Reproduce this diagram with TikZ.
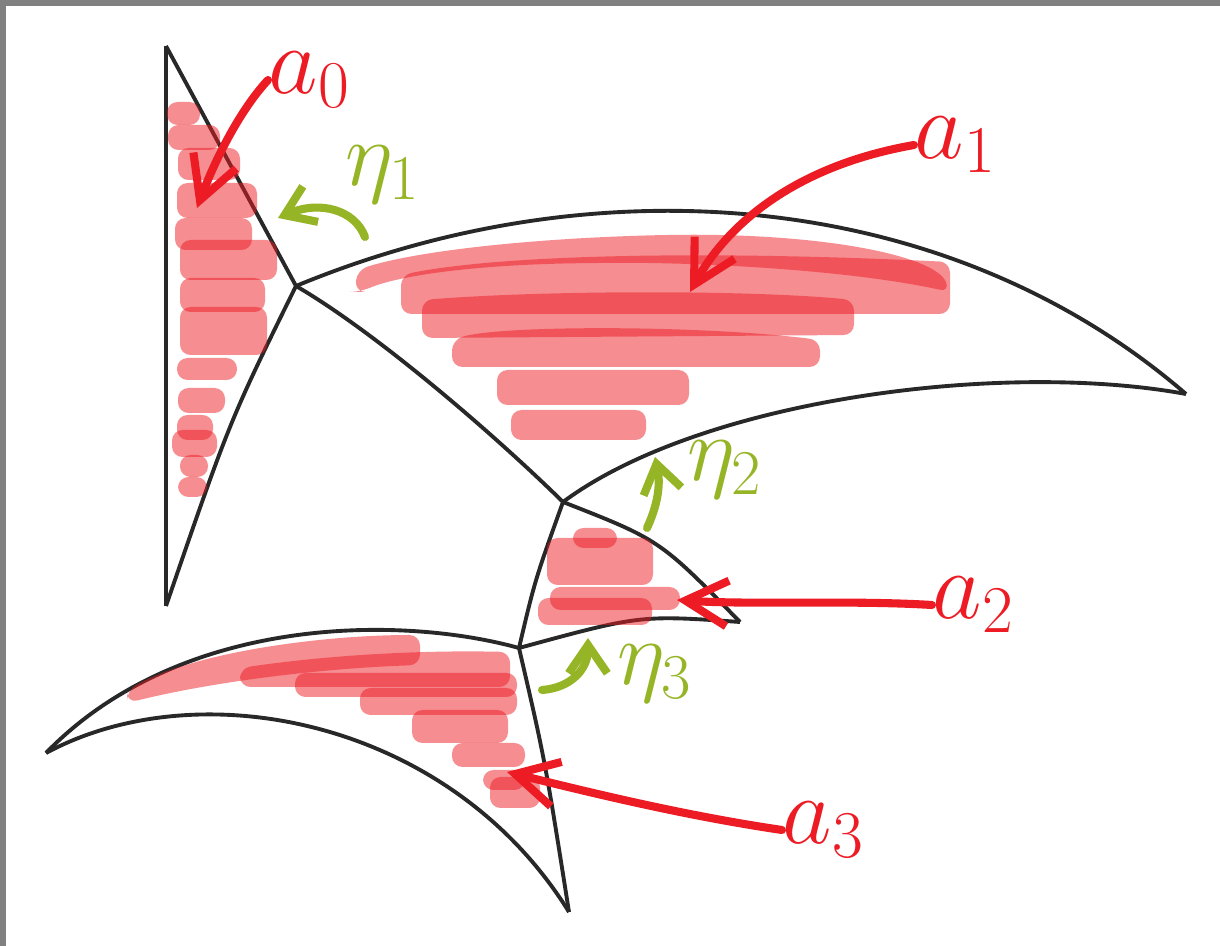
\documentclass[tikz,border=0pt]{standalone}
\usepackage{graphicx}
\usetikzlibrary{arrows.meta}
\definecolor{inkred}{RGB}{237,28,36}
\definecolor{inkgreen}{RGB}{150,181,38}
\definecolor{inkblack}{RGB}{40,40,40}
\newcommand{\inkmath}[2]{\scalebox{#1}{$#2$}}

\begin{document}
\begin{tikzpicture}[x=0.01cm,y=-0.01cm,
  seam/.style={inkblack,line width=1.1pt,line join=round},
  smear/.style={fill=inkred,fill opacity=0.5,rounded corners=3pt},
  pointer/.style={inkred,line width=2.3pt,line cap=round,line join=round,-{Straight Barb[length=12pt,width=13pt]}},
  flow/.style={inkgreen,line width=2.3pt,line cap=round,line join=round,-{Straight Barb[length=8pt,width=11pt]}},
  lbl/.style={inner sep=0pt,anchor=west,font=\fontsize{24}{24}\selectfont},
  glbl/.style={inner sep=0pt,inkgreen,font=\fontsize{24}{24}\selectfont}]

  % frame
  \fill[gray] (0,0) rectangle (1220,946);
  \fill[white] (6,6) rectangle (1220,946);

  % corners and junctions
  \coordinate (top) at (166,46);
  \coordinate (bot) at (166,606);
  \coordinate (j1) at (296,286);
  \coordinate (j2) at (563,502);
  \coordinate (j3) at (519,648);
  \coordinate (tip1) at (1186,394);
  \coordinate (tip2) at (740,622);
  \coordinate (tip3) at (46,753);
  \coordinate (tip4) at (569,912);

  % the cells
  \draw[seam] (top) -- (bot);
  \draw[seam] (top) -- (j1);
  \draw[seam] (j1) .. controls (230,420) .. (bot);
  \draw[seam] (j1) .. controls (600,160) and (950,190) .. (tip1);
  \draw[seam] (j1) .. controls (380,335) and (500,440) .. (j2);
  \draw[seam] (j2) .. controls (700,400) and (1000,360) .. (tip1);
  \draw[seam] (j2) .. controls (535,580) .. (j3);
  \draw[seam] (j2) .. controls (660,540) .. (tip2);
  \draw[seam] (j3) .. controls (640,615) .. (tip2);
  \draw[seam] (j3) .. controls (400,615) and (180,615) .. (tip3);
  \draw[seam] (tip3) .. controls (200,670) and (450,720) .. (tip4);
  \draw[seam] (j3) .. controls (545,760) .. (tip4);

  % shading of a_0
  \foreach \xa/\ya/\xb/\yb in {167/102/200/125, 168/125/220/150, 178/148/240/180,
      177/183/257/218, 175/218/252/250, 180/240/277/280, 180/278/265/312,
      180/307/267/355, 177/358/237/380, 178/388/225/413, 177/415/213/440,
      172/430/217/457, 180/455/208/477, 178/477/207/497}
    \fill[smear] (\xa,\ya) rectangle (\xb,\yb);

  % shading of a_1
  \fill[smear] (355,292) -- (357,270) .. controls (420,250) and (540,238) .. (666,235)
    .. controls (820,233) and (935,255) .. (950,292)
    .. controls (850,270) and (700,262) .. (600,263)
    .. controls (480,264) and (400,275) .. (360,292) -- cycle;
  \fill[smear] (401,275) .. controls (500,255) and (700,250) .. (950,262) -- (950,314) -- (401,314) -- cycle;
  \fill[smear] (422,300) .. controls (550,290) and (750,290) .. (854,300) -- (854,335) -- (422,338) -- cycle;
  \fill[smear] (452,340) .. controls (500,325) and (700,325) .. (820,340) -- (820,367) -- (452,367) -- cycle;
  \fill[smear] (497,370) rectangle (689,405);
  \fill[smear] (511,410) rectangle (646,440);

  % shading of a_2
  \foreach \xa/\ya/\xb/\yb in {573/528/617/548, 547/538/653/585, 550/587/680/610, 538/598/652/625}
    \fill[smear] (\xa,\ya) rectangle (\xb,\yb);

  % shading of a_3
  \fill[smear] (127,690) .. controls (200,650) and (330,635) .. (420,635) -- (420,665)
    .. controls (330,668) and (220,680) .. (127,703) -- cycle;
  \fill[smear] (240,668) .. controls (330,655) and (420,650) .. (510,652) -- (510,687) -- (240,687) -- cycle;
  \foreach \xa/\ya/\xb/\yb in {295/673/517/697, 360/688/517/715, 412/710/508/743,
      452/743/525/767, 483/770/525/790, 490/777/540/808}
    \fill[smear] (\xa,\ya) rectangle (\xb,\yb);

  % labels
  \node[lbl,inkred] (la0) at (268,80) {\inkmath{1.1}{a_0}};
  \node[lbl,inkred] (la1) at (914,145) {\inkmath{1.1}{a_1}};
  \node[lbl,inkred] (la2) at (932,605) {\inkmath{1.1}{a_2}};
  \node[lbl,inkred] (la3) at (782,830) {\inkmath{1.1}{a_3}};
  \node[glbl] (le1) at (383,175) {\inkmath{1.05}{\eta_1}};
  \node[glbl] (le2) at (725,470) {\inkmath{1.05}{\eta_2}};
  \node[glbl] (le3) at (655,674) {\inkmath{1.05}{\eta_3}};

  % red pointers
  \coordinate (h0) at (197,208);
  \coordinate (h1) at (690,292);
  \coordinate (h2) at (677,600);
  \coordinate (h3) at (507,772);
  \draw[pointer] (la0.west) .. controls (240,110) and (215,160) .. (h0);
  \draw[pointer] (la1.west) .. controls (800,165) and (730,220) .. (h1);
  \draw[pointer] (la2.west) .. controls (850,600) and (750,605) .. (h2);
  \draw[pointer] (la3.west) .. controls (680,815) and (580,790) .. (h3);

  % green arrows
  \coordinate (f1) at (365,237);
  \coordinate (f2) at (647,528);
  \coordinate (f3) at (542,690);
  \coordinate (e1) at (278,218);
  \coordinate (e2) at (655,457);
  \coordinate (e3) at (588,638);
  \draw[flow] (f1) .. controls (355,210) and (320,200) .. (e1);
  \draw[flow] (f2) .. controls (660,500) and (660,480) .. (e2);
  \draw[flow] (f3) .. controls (570,688) and (588,670) .. (e3);
\end{tikzpicture}
\end{document}
